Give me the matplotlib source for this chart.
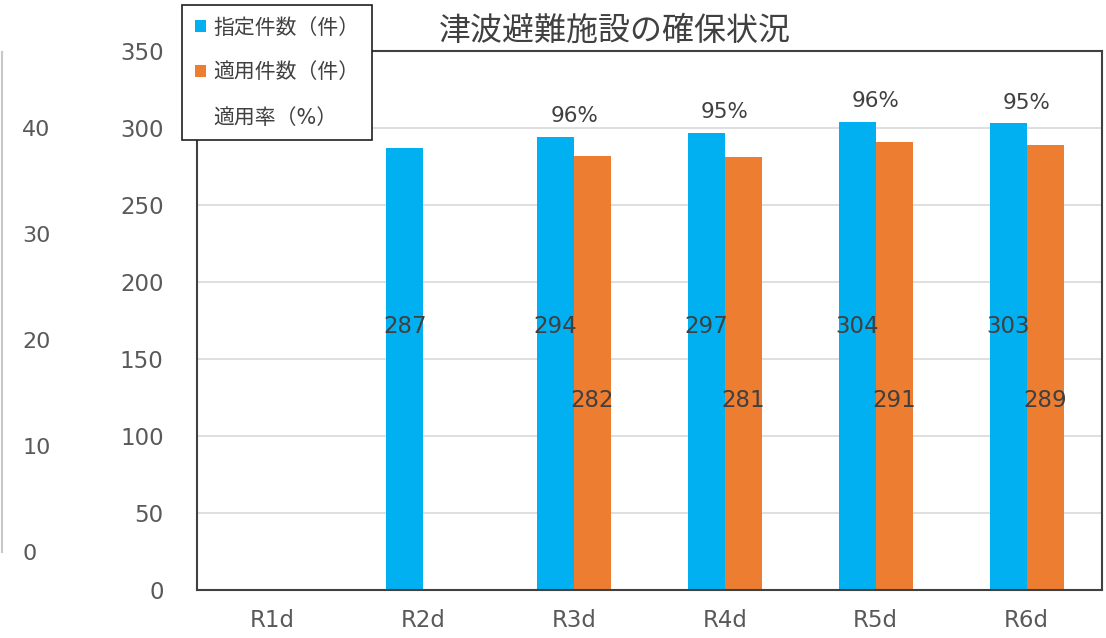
import numpy as np
import matplotlib.pyplot as plt
from matplotlib.patches import Patch
from matplotlib.lines import Line2D

plt.rcParams["font.family"] = ["DejaVu Sans", "Noto Sans CJK JP"]
plt.rcParams["axes.unicode_minus"] = False

YEARS = ["R1d", "R2d", "R3d", "R4d", "R5d", "R6d"]
SHITEI = [np.nan, 287, 294, 297, 304, 303]     # 指定件数（件）
TEKIYO = [np.nan, np.nan, 282, 281, 291, 289]  # 適用件数（件）
SUB_TICKS = [0, 10, 20, 30, 40]

BLUE = "#00B0F0"
ORANGE = "#ED7D31"
TXT = "#404040"
TICK = "#595959"

fig = plt.figure(figsize=(11.06, 6.38), dpi=100)

# 左端の補助軸（0〜40）
ax2 = fig.add_axes([2 / 1106, 86 / 638, 0.05, 500 / 638])
ax2.set_ylim(0, 47.2)
ax2.set_yticks(SUB_TICKS)
ax2.set_xticks([])
for s in ["top", "right", "bottom"]:
    ax2.spines[s].set_visible(False)
ax2.spines["left"].set_color("#C8C8C8")
ax2.spines["left"].set_linewidth(1.5)
ax2.tick_params(axis="y", length=0, pad=-14.5, labelsize=16, labelcolor=TICK)
for lab in ax2.get_yticklabels():
    lab.set_horizontalalignment("left")
ax2.patch.set_alpha(0)

# メインの棒グラフ
ax = fig.add_axes([197 / 1106, 48 / 638, 905 / 1106, 539 / 638])
x = np.arange(len(YEARS))
w = 0.245
ax.bar(x - w / 2, SHITEI, w, color=BLUE, zorder=2)
ax.bar(x + w / 2, TEKIYO, w, color=ORANGE, zorder=2)

ax.set_xlim(-0.5, len(YEARS) - 0.5)
ax.set_ylim(0, 350)
ax.set_yticks(np.arange(0, 351, 50))
ax.set_xticks(x)
ax.set_xticklabels(YEARS)
ax.tick_params(axis="y", length=0, pad=24, labelsize=16.5, labelcolor=TICK)
ax.tick_params(axis="x", length=0, pad=14, labelsize=16.5, labelcolor=TICK)
ax.grid(axis="y", color="#D9D9D9", linewidth=1.2, zorder=0)
ax.set_axisbelow(True)
for s in ax.spines.values():
    s.set_color("#404040")
    s.set_linewidth(1.5)

# 値ラベル
for i in range(len(YEARS)):
    if not np.isnan(SHITEI[i]):
        ax.text(x[i] - w / 2, 171, f"{SHITEI[i]:.0f}", ha="center", va="center",
                fontsize=16.5, color=TXT, zorder=3)
    if not np.isnan(TEKIYO[i]):
        ax.text(x[i] + w / 2, 123, f"{TEKIYO[i]:.0f}", ha="center", va="center",
                fontsize=16.5, color=TXT, zorder=3)
        rate = TEKIYO[i] / SHITEI[i] * 100
        ax.annotate(f"{rate:.0f}%", (x[i], SHITEI[i]), xytext=(0, 15),
                    textcoords="offset points", ha="center", va="center",
                    fontsize=15.5, color=TXT)

fig.text(0.556, 0.951, "津波避難施設の確保状況", ha="center", va="center",
         fontsize=23, color=TXT)

handles = [Patch(facecolor=BLUE, edgecolor="none"),
           Patch(facecolor=ORANGE, edgecolor="none"),
           Line2D([], [], color="none")]
labels = ["指定件数（件）", "適用件数（件）", "適用率（%）"]
leg = fig.legend(handles, labels, loc="upper left",
                 bbox_to_anchor=(182 / 1106, 1 - 5 / 638), borderaxespad=0,
                 fontsize=15, frameon=True, fancybox=False,
                 handlelength=0.55, handleheight=0.55, handletextpad=0.35,
                 labelspacing=1.2, borderpad=0.6, labelcolor=TXT)
leg.get_frame().set_edgecolor("#202020")
leg.get_frame().set_linewidth(1.2)
leg.get_frame().set_alpha(1)

plt.savefig("out.png", dpi=100)
plt.close()
